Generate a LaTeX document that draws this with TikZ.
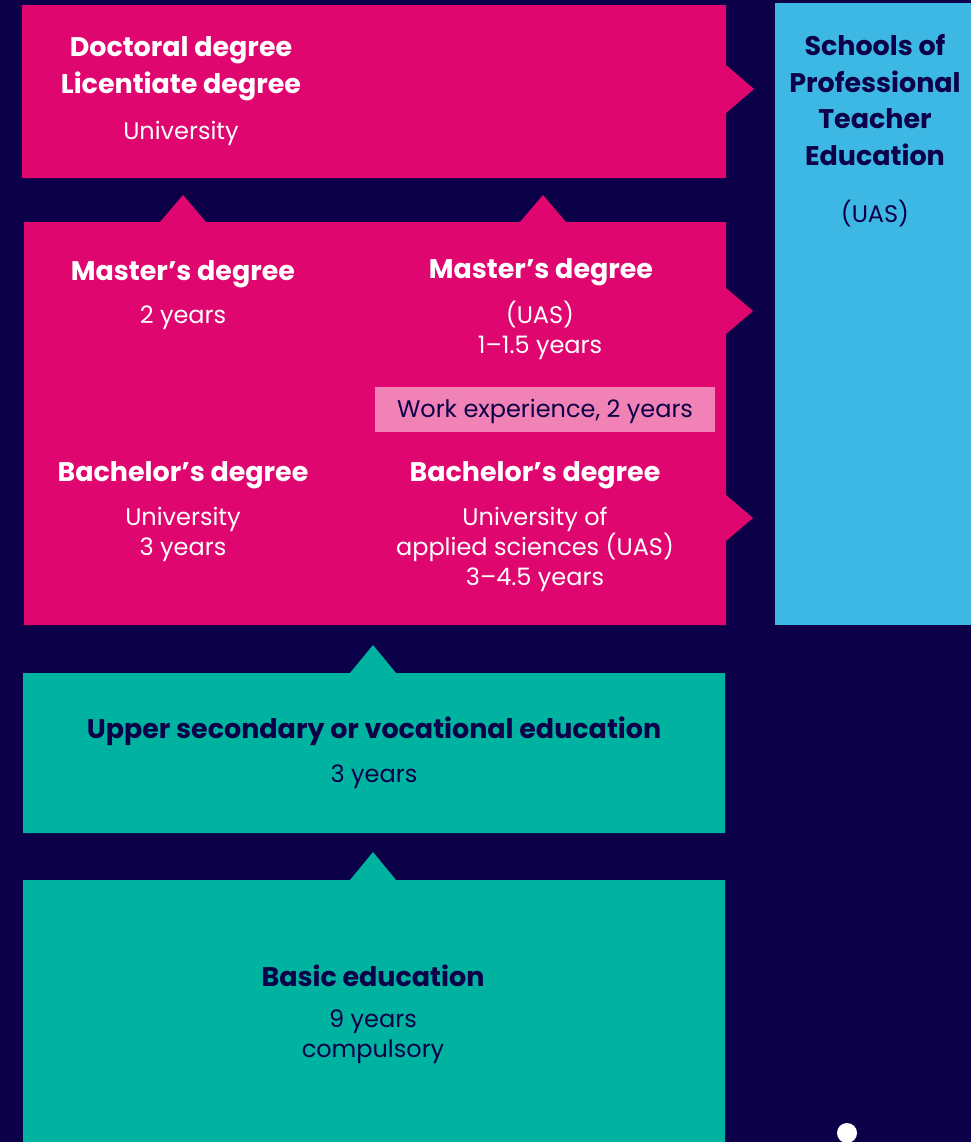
\documentclass[tikz,border=0pt]{standalone}
\usepackage{fontspec}
\setmainfont{Poppins}
\definecolor{navyBg}{RGB}{12,0,72}
\definecolor{pinkBox}{RGB}{224,6,111}
\definecolor{workPink}{RGB}{240,130,182}
\definecolor{skyBox}{RGB}{61,184,229}
\definecolor{tealBox}{RGB}{0,179,160}

\begin{document}
\begin{tikzpicture}[x=0.75pt,y=-0.75pt,
    title/.style={font=\fontsize{20.2}{27.75}\selectfont\bfseries, align=center, inner sep=0pt},
    sub/.style={font=\fontsize{18}{22.5}\selectfont, align=center, inner sep=0pt}]
    % background
    \fill[navyBg] (0,0) rectangle (971,1142);
    \useasboundingbox (0,0) rectangle (971,1142);
    % boxes
    \fill[pinkBox] (22,5) -- (726,5) -- (726,65) -- (754,89) -- (726,113) -- (726,178) -- (22,178) -- cycle;
    \fill[pinkBox] (24,222) -- (160,222) -- (183,195) -- (206,222) -- (520,222) -- (543,195) -- (566,222) -- (726,222)
        -- (726,288) -- (753,311) -- (726,334) -- (726,495) -- (753,518) -- (726,541) -- (726,625) -- (24,625) -- cycle;
    \fill[skyBox] (775,3) rectangle (971,625);
    \fill[workPink] (375,387) rectangle (715,432);
    \fill[tealBox] (23,673) -- (350,673) -- (373,645) -- (396,673) -- (725,673) -- (725,833) -- (23,833) -- cycle;
    \fill[tealBox] (23,880) -- (350,880) -- (373,852) -- (396,880) -- (725,880) -- (725,1142) -- (23,1142) -- cycle;
    \fill[white] (847,1133) circle (10);
    % texts
    \node[title, text=white] (doctoral) at (181,69) {Doctoral degree\\Licentiate degree};
    \node[sub, text=white] (doctoralsub) at (181,133) {University};
    \node[title, text=white] (master) at (183,274) {Master’s degree};
    \node[sub, text=white] (mastersub) at (183,318) {2 years};
    \node[title, text=white] (masteruas) at (541,272) {Master’s degree};
    \node[sub, text=white] (masteruassub) at (540,330) {(UAS)\\1–1.5 years};
    \node[sub, text=navyBg] (work) at (545,411) {Work experience, 2 years};
    \node[title, text=white] (bachelor) at (183,475) {Bachelor’s degree};
    \node[sub, text=white] (bachelorsub) at (183,534) {University\\3 years};
    \node[title, text=white] (bacheloruas) at (535,475) {Bachelor’s degree};
    \node[sub, text=white] (bacheloruassub) at (535,549) {University of\\applied sciences (UAS)\\3–4.5 years};
    \node[title, text=navyBg] (upper) at (374,731) {Upper secondary or vocational education};
    \node[sub, text=navyBg] (uppersub) at (374,777) {3 years};
    \node[title, text=navyBg] (basic) at (373,976) {Basic education};
    \node[sub, text=navyBg] (basicsub) at (373,1037) {9 years\\compulsory};
    \node[title, text=navyBg, font=\fontsize{20.2}{27.4}\selectfont\bfseries] (teacher) at (875,100) {Schools of\\Professional\\Teacher\\Education};
    \node[sub, text=navyBg] (teachersub) at (875,214) {(UAS)};
\end{tikzpicture}
\end{document}
